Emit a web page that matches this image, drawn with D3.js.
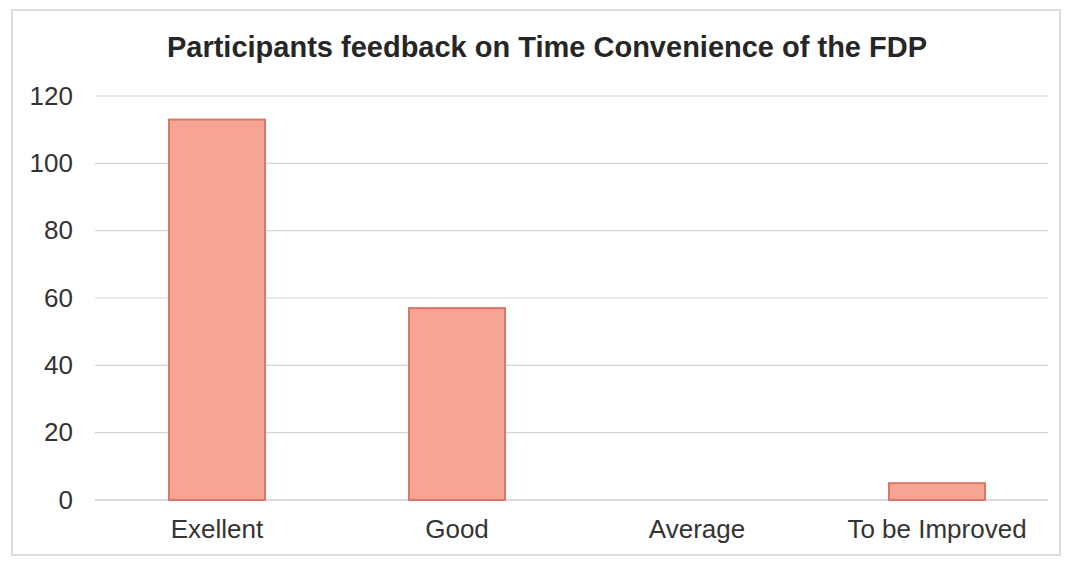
<!DOCTYPE html>
<html>
<head>
<meta charset="utf-8">
<script src="https://cdn.jsdelivr.net/npm/d3@7"></script>
<style>
  body { margin: 0; background: #fff; }
  text { font-family: "Liberation Sans", Arial, sans-serif; }
</style>
</head>
<body>
<script>
// chart values
var categories = ["Exellent", "Good", "Average", "To be Improved"];
var counts = [113, 57, 0, 5];
var yTicks = [0, 20, 40, 60, 80, 100, 120];
var title = "Participants feedback on Time Convenience of the FDP";

var width = 1074, height = 565;
var margin = {top: 96, right: 26, bottom: 65, left: 95};

var svg = d3.select("body").append("svg")
    .attr("width", width)
    .attr("height", height);

// outer frame
svg.append("rect")
    .attr("x", 12).attr("y", 10)
    .attr("width", 1048).attr("height", 545)
    .attr("fill", "#fff")
    .attr("stroke", "#d2d2d2")
    .attr("stroke-width", 1.5);

svg.append("text")
    .attr("x", 547).attr("y", 57)
    .attr("text-anchor", "middle")
    .attr("font-size", 29)
    .attr("font-weight", "bold")
    .attr("fill", "#262626")
    .text(title);

// bands laid out a bit wider than the grid, like the original
var x = d3.scaleBand()
    .domain(categories)
    .range([97, 1057])
    .paddingInner(0.6)
    .paddingOuter(0.3);

var y = d3.scaleLinear()
    .domain([0, 120])
    .range([height - margin.bottom, margin.top]);

// gridlines
svg.append("g")
    .selectAll("line")
    .data(yTicks)
    .enter()
    .append("line")
    .attr("x1", margin.left)
    .attr("x2", width - margin.right)
    .attr("y1", function(d) { return y(d); })
    .attr("y2", function(d) { return y(d); })
    .attr("stroke", function(d) { return d == 0 ? "#b8b8b8" : "#d4d4d4"; })
    .attr("stroke-width", 1.2);

var yAxis = svg.append("g")
    .attr("transform", "translate(" + margin.left + ",0)")
    .call(d3.axisLeft(y).tickValues(yTicks).tickSize(0).tickPadding(22));
yAxis.select(".domain").remove();
yAxis.selectAll("text")
    .attr("font-size", 26)
    .attr("fill", "#333");

var xAxis = svg.append("g")
    .attr("transform", "translate(0," + (height - margin.bottom) + ")")
    .call(d3.axisBottom(x).tickSize(0).tickPadding(20));
xAxis.select(".domain").remove();
xAxis.selectAll("text")
    .attr("font-size", 26)
    .attr("fill", "#333");

svg.append("g")
    .selectAll("rect")
    .data(counts)
    .enter()
    .append("rect")
    .attr("x", function(d, i) { return x(categories[i]); })
    .attr("y", function(d) { return y(d); })
    .attr("width", x.bandwidth())
    .attr("height", function(d) { return y(0) - y(d); })
    .attr("fill", "#f7a493")
    .attr("stroke", function(d) { return d > 0 ? "#d9786a" : "none"; })
    .attr("stroke-width", 2);
</script>
</body>
</html>
